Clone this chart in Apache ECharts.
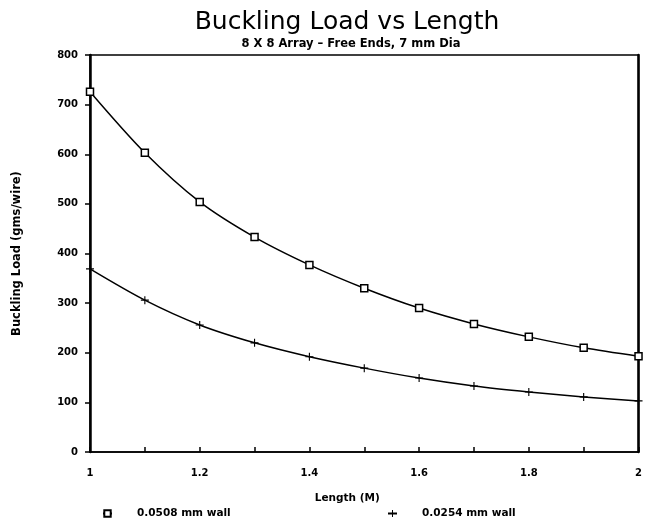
<!DOCTYPE html>
<html>
<head>
<meta charset="utf-8">
<script src="https://cdn.jsdelivr.net/npm/echarts@6/dist/echarts.min.js"></script>
<style>
  html, body { margin: 0; padding: 0; background: #fff; }
  #chart { width: 645px; height: 521px; }
</style>
</head>
<body>
<div id="chart"></div>
<script>
// lengths in metres
const lengths = [1.0, 1.1, 1.2, 1.3, 1.4, 1.5, 1.6, 1.7, 1.8, 1.9, 2.0]
// buckling load, gms/wire
const thickWall = [726, 603, 504, 433, 377, 330, 290, 258, 232, 210, 193]
const thinWall = [369, 306, 256, 220, 192, 169, 149, 133, 121, 111, 103]
const seriesNames = ['0.0508 mm wall', '0.0254 mm wall']
const xTickLabels = ['1', '1.2', '1.4', '1.6', '1.8', '2']

const plus = 'path://M4.3,0h1.4v10h-1.4zM0,4.3h10v1.4h-10z'
const font = 'DejaVu Sans'

const chart = echarts.init(document.getElementById('chart'))

function pairs(ys) {
  return lengths.map((x, i) => [x, ys[i]])
}

chart.setOption({
  animation: false,
  backgroundColor: '#fff',
  textStyle: { fontFamily: font, color: '#000' },
  title: [
    {
      text: 'Buckling Load vs Length',
      left: 342, top: 5, textAlign: 'center',
      textStyle: { fontFamily: font, fontSize: 25, fontWeight: 'normal', color: '#000' },
    },
    {
      text: '8 X 8 Array \u2013 Free Ends, 7 mm Dia',
      left: 346, top: 33, textAlign: 'center',
      textStyle: { fontFamily: font, fontSize: 11.5, fontWeight: 'bold', color: '#000' },
    },
  ],
  legend: [
    {
      data: [seriesNames[0]],
      left: 97, top: 503,
      itemWidth: 9, itemHeight: 8,
      textStyle: { fontSize: 10.5, fontWeight: 'bold', color: '#000', padding: [0, 0, 0, 20] },
    },
    {
      data: [seriesNames[1]],
      left: 382, top: 503,
      itemWidth: 9, itemHeight: 9,
      textStyle: { fontSize: 10.5, fontWeight: 'bold', color: '#000', padding: [0, 0, 0, 20] },
    },
  ],
  grid: {
    left: 90, right: 2, top: 55, bottom: 69,
    show: true, borderColor: '#000', borderWidth: 1.5,
  },
  xAxis: {
    type: 'value',
    min: 1, max: 2, interval: 0.1,
    name: 'Length (M)',
    nameLocation: 'middle', nameGap: 41,
    nameTextStyle: { fontSize: 10.5, fontWeight: 'bold', color: '#000', padding: [0, 34, 0, 0] },
    axisLine: { lineStyle: { color: '#000', width: 1.5 } },
    axisTick: { inside: true, length: 5, lineStyle: { color: '#000', width: 1.5 } },
    axisLabel: {
      margin: 16, fontSize: 10, fontWeight: 'bold', color: '#000',
      formatter: (v) => {
        const s = String(Math.round(v * 10) / 10)
        return xTickLabels.includes(s) ? s : ''
      },
    },
    splitLine: { show: false },
  },
  yAxis: [
    {
      type: 'value',
      min: 0, max: 800, interval: 100,
      name: 'Buckling Load (gms/wire)',
      nameLocation: 'middle', nameGap: 67,
      nameTextStyle: { fontSize: 11.5, fontWeight: 'bold', color: '#000' },
      axisLine: { lineStyle: { color: '#000', width: 2.5 } },
      axisTick: { length: 5, lineStyle: { color: '#000', width: 1.5 } },
      axisLabel: { margin: 12, fontSize: 10, fontWeight: 'bold', color: '#000' },
      splitLine: { show: false },
    },
    {
      // heavy right frame edge
      type: 'value', position: 'right',
      min: 0, max: 800, interval: 100,
      axisLine: { show: true, lineStyle: { color: '#000', width: 2.5 } },
      axisTick: { show: false },
      axisLabel: { show: false },
      splitLine: { show: false },
    },
  ],
  series: [
    {
      name: seriesNames[0],
      type: 'line',
      smooth: 0.3,
      data: pairs(thickWall),
      symbol: 'rect', symbolSize: 7,
      itemStyle: { color: '#fff', borderColor: '#000', borderWidth: 1.5 },
      lineStyle: { color: '#000', width: 1.5 },
    },
    {
      name: seriesNames[1],
      type: 'line',
      smooth: 0.3,
      data: pairs(thinWall),
      symbol: plus, symbolSize: 8,
      itemStyle: { color: '#000' },
      lineStyle: { color: '#000', width: 1.5 },
    },
  ],
})
</script>
</body>
</html>
